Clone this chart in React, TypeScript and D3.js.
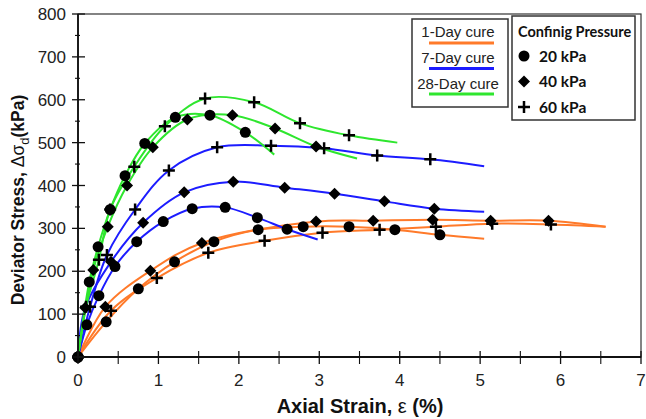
import React from 'react';
import * as d3 from 'd3';

// [axial strain %, deviator stress kPa]
const day1_20 = [[0, 0], [0.35, 82], [0.75, 159], [1.2, 222], [1.69, 269], [2.24, 297], [2.8, 304], [3.37, 304], [3.94, 297], [4.5, 285]];
const day1_20_end = [[5.05, 276]];
const day1_40 = [[0, 0], [0.34, 117], [0.9, 201], [1.54, 266], [2.96, 316], [3.67, 318], [4.41, 320], [5.13, 318], [5.85, 318]];
const day1_40_end = [[6.56, 304]];
const day1_60 = [[0, 0], [0.41, 108], [0.98, 184], [1.62, 243], [2.32, 271], [3.04, 290], [3.75, 297], [4.45, 304], [5.15, 311], [5.88, 309]];
const day1_60_end = [[6.56, 304]];

const day7_20 = [[0, 0], [0.11, 75], [0.26, 143], [0.46, 211], [0.73, 269], [1.06, 316], [1.42, 346], [1.83, 349], [2.23, 325], [2.6, 298]];
const day7_20_end = [[2.98, 274]];
const day7_40 = [[0, 0], [0.09, 115], [0.41, 222], [0.81, 313], [1.32, 384], [1.93, 409], [2.57, 395], [3.19, 381], [3.81, 363], [4.43, 346]];
const day7_40_end = [[5.05, 339]];
const day7_60 = [[0, 0], [0.15, 117], [0.36, 238], [0.71, 344], [1.13, 435], [1.73, 489], [2.4, 493], [3.06, 487], [3.72, 470], [4.38, 461]];
const day7_60_end = [[5.05, 445]];

const day28_20 = [[0, 0], [0.14, 175], [0.25, 257], [0.4, 344], [0.585, 423], [0.83, 498], [1.21, 559], [1.64, 564], [2.08, 524]];
const day28_20_end = [[2.44, 472]];
const day28_40 = [[0, 0], [0.19, 203], [0.37, 304], [0.61, 400], [0.93, 489], [1.36, 554], [1.92, 564], [2.45, 533], [2.96, 491]];
const day28_40_end = [[3.47, 463]];
const day28_60 = [[0, 0], [0.1, 117], [0.26, 227], [0.4, 344], [0.7, 444], [1.08, 538], [1.58, 603], [2.19, 594], [2.76, 545], [3.37, 517]];
const day28_60_end = [[3.97, 500]];

const cureLabels = ['1-Day cure', '7-Day cure', '28-Day cure'];
const cureColors = ['#ff7a2a', '#1c1cff', '#2ee62e'];
const pressureLabels = ['20 kPa', '40 kPa', '60 kPa'];
const markerKinds = ['circle', 'diamond', 'plus'];

const series = [
  { pts: day1_20, end: day1_20_end, cure: 0, p: 0 },
  { pts: day1_40, end: day1_40_end, cure: 0, p: 1 },
  { pts: day1_60, end: day1_60_end, cure: 0, p: 2 },
  { pts: day7_20, end: day7_20_end, cure: 1, p: 0 },
  { pts: day7_40, end: day7_40_end, cure: 1, p: 1 },
  { pts: day7_60, end: day7_60_end, cure: 1, p: 2 },
  { pts: day28_20, end: day28_20_end, cure: 2, p: 0 },
  { pts: day28_40, end: day28_40_end, cure: 2, p: 1 },
  { pts: day28_60, end: day28_60_end, cure: 2, p: 2 },
];

const xMajor = d3.range(0, 8, 1);
const xMinor = d3.range(0.5, 7, 1);
const yMajor = d3.range(0, 900, 100);
const yMinor = d3.range(50, 800, 100);

const Marker = ({ kind, x, y }) => {
  if (kind === 'circle') return <circle cx={x} cy={y} r={5.5} fill="black" />;
  if (kind === 'diamond') {
    const s = 6;
    return <path d={`M${x},${y - s}L${x + s},${y}L${x},${y + s}L${x - s},${y}Z`} fill="black" />;
  }
  const s = 6;
  return (
    <path d={`M${x - s},${y}H${x + s}M${x},${y - s}V${y + s}`} stroke="black" strokeWidth={2.5} fill="none" />
  );
};

export default function App() {
  const W = 646;
  const H = 419;
  const x = d3.scaleLinear().domain([0, 7]).range([78, 641]);
  const y = d3.scaleLinear().domain([0, 800]).range([357, 14]);

  const line = d3
    .line()
    .x(d => x(d[0]))
    .y(d => y(d[1]))
    .curve(d3.curveCatmullRom.alpha(0.5));

  const font = 'Liberation Sans, Arial, sans-serif';

  return (
    <svg width={W} height={H} style={{ position: 'absolute', left: 0, top: 0, background: 'white' }} fontFamily={font}>
      {/* curves */}
      {series.map((s, i) => (
        <path key={'l' + i} d={line([...s.pts, ...s.end])} fill="none" stroke={cureColors[s.cure]} strokeWidth={2} />
      ))}
      {/* markers */}
      {series.map((s, i) =>
        s.pts.map((d, j) => <Marker key={'m' + i + '-' + j} kind={markerKinds[s.p]} x={x(d[0])} y={y(d[1])} />)
      )}

      {/* frame + axes */}
      <rect x={x(0)} y={y(800)} width={x(7) - x(0)} height={y(0) - y(800)} fill="none" stroke="#333" strokeWidth={1.2} />
      <line x1={x(0)} x2={x(7)} y1={y(0)} y2={y(0)} stroke="#111" strokeWidth={1.8} />
      <line x1={x(0)} x2={x(0)} y1={y(0)} y2={y(800)} stroke="#111" strokeWidth={1.8} />

      {xMajor.map(t => (
        <g key={'xt' + t}>
          <line x1={x(t)} x2={x(t)} y1={y(0) - 6} y2={y(0) + 7} stroke="#111" strokeWidth={1.3} />
          <text x={x(t)} y={386} fontSize={17} textAnchor="middle" fill="#222">{t}</text>
        </g>
      ))}
      {xMinor.map(t => (
        <line key={'xm' + t} x1={x(t)} x2={x(t)} y1={y(0) - 6} y2={y(0) + 7} stroke="#111" strokeWidth={1.1} />
      ))}
      {yMajor.map(t => (
        <g key={'yt' + t}>
          <line x1={x(0) - 6} x2={x(0) + 7} y1={y(t)} y2={y(t)} stroke="#111" strokeWidth={1.3} />
          <text x={66} y={y(t) + 6} fontSize={17} textAnchor="end" fill="#222">{t}</text>
        </g>
      ))}
      {yMinor.map(t => (
        <line key={'ym' + t} x1={x(0) - 3} x2={x(0) + 2} y1={y(t)} y2={y(t)} stroke="#111" strokeWidth={1.1} />
      ))}

      {/* axis titles */}
      <text x={360} y={413} fontSize={20} fontWeight="bold" textAnchor="middle" fill="#111">
        Axial Strain, <tspan fontWeight="normal">ε</tspan> (%)
      </text>
      <text transform="translate(24,200) rotate(-90)" fontSize={17.5} fontWeight="bold" textAnchor="middle" fill="#111">
        Deviator Stress, <tspan fontWeight="normal">Δσ</tspan>
        <tspan fontWeight="normal" fontSize={13} dy={5}>d</tspan>
        <tspan dy={-5}>(kPa)</tspan>
      </text>

      {/* cure legend */}
      <rect x={412} y={19} width={96} height={88} fill="white" stroke="#333" strokeWidth={1.5} />
      {cureLabels.map((c, i) => (
        <g key={c}>
          <text x={458} y={37 + i * 26} fontSize={15} textAnchor="middle" fill="#222">{c}</text>
          <line x1={429} x2={494} y1={43 + i * 25.5} y2={43 + i * 25.5} stroke={cureColors[i]} strokeWidth={3} />
        </g>
      ))}

      {/* pressure legend */}
      <rect x={512} y={16} width={123} height={104} fill="white" stroke="#333" strokeWidth={1.5} />
      <text x={518} y={37} fontSize={14.5} fontWeight="bold" fontFamily="Lato, sans-serif" fill="#111">Confinig Pressure</text>
      {pressureLabels.map((p, i) => (
        <g key={p}>
          <Marker kind={markerKinds[i]} x={524} y={56 + i * 25.5} />
          <text x={539} y={61.5 + i * 25.5} fontSize={15.5} fontWeight="bold" fontFamily="Lato, sans-serif" fill="#111">{p}</text>
        </g>
      ))}
    </svg>
  );
}
